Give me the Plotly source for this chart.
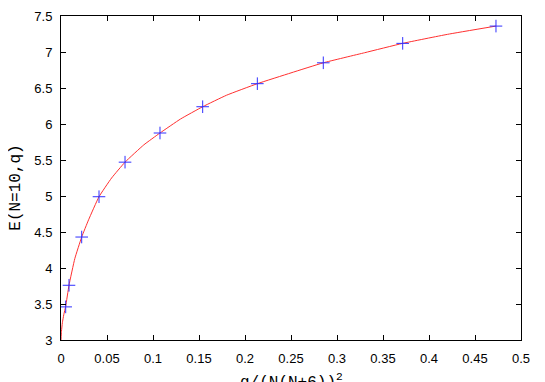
import plotly.graph_objects as go

# measured points (blue crosses)
q_scaled = [0.0051, 0.0087, 0.0225, 0.0413, 0.0696, 0.1076, 0.154, 0.2134, 0.2851, 0.3714, 0.4728]
energy = [3.46, 3.76, 4.43, 4.99, 5.47, 5.875, 6.24, 6.56, 6.85, 7.12, 7.36]

# fitted curve (red line)
fit_x = [0.0, 0.0005, 0.0015, 0.003, 0.0051, 0.0087, 0.015, 0.0225, 0.03, 0.0413, 0.055,
         0.0696, 0.09, 0.1076, 0.13, 0.154, 0.18, 0.2134, 0.25, 0.2851, 0.33, 0.3714, 0.42, 0.4728]
fit_y = [3.0, 3.12, 3.24, 3.35, 3.47, 3.76, 4.13, 4.43, 4.67, 4.99, 5.25,
         5.47, 5.71, 5.875, 6.07, 6.24, 6.40, 6.56, 6.71, 6.85, 6.99, 7.12, 7.245, 7.36]

x_ticks = [0, 0.05, 0.1, 0.15, 0.2, 0.25, 0.3, 0.35, 0.4, 0.45, 0.5]
y_ticks = [3, 3.5, 4, 4.5, 5, 5.5, 6, 6.5, 7, 7.5]

fig = go.Figure()
fig.add_trace(go.Scatter(
    x=fit_x, y=fit_y, mode="lines",
    line=dict(color="#ff3030", width=1, shape="spline", smoothing=0.4),
))
fig.add_trace(go.Scatter(
    x=q_scaled, y=energy, mode="markers",
    marker=dict(symbol="cross-thin", size=9, line=dict(color="#3030ff", width=1)),
))

axis_common = dict(
    showgrid=False, zeroline=False, showline=True, linecolor="black", linewidth=1,
    mirror="ticks", ticks="inside", ticklen=5, tickcolor="black", automargin=False,
    tickfont=dict(family="Liberation Sans", size=13, color="black"),
)
title_font = dict(family="Liberation Mono", size=16, color="black")

# the page body has an 8px margin, so the figure is shifted and shrunk to fit
fig.update_layout(
    width=537, height=374,
    margin=dict(l=53, r=24, t=8, b=42),
    paper_bgcolor="white", plot_bgcolor="white",
    showlegend=False,
    xaxis=dict(
        range=[0, 0.5], tickvals=x_ticks, ticktext=[f"{v:g}" for v in x_ticks],
        ticklabelstandoff=6, **axis_common,
    ),
    yaxis=dict(
        range=[3, 7.5], tickvals=y_ticks, ticktext=[f"{v:g}" for v in y_ticks],
        ticklabelstandoff=5, **axis_common,
    ),
)

# axis titles as annotations so they can sit where gnuplot put them
fig.add_annotation(
    text="q/(N(N+6))<sup>2</sup>", xref="paper", yref="paper", x=0.5, y=0,
    xanchor="center", yanchor="middle", yshift=-41, showarrow=False, font=title_font,
)
fig.add_annotation(
    text="E(N=10,q)", xref="paper", yref="paper", x=0, y=0.47,
    xanchor="center", yanchor="middle", xshift=-45, textangle=-90,
    showarrow=False, font=title_font,
)

fig.write_html("out.html")
